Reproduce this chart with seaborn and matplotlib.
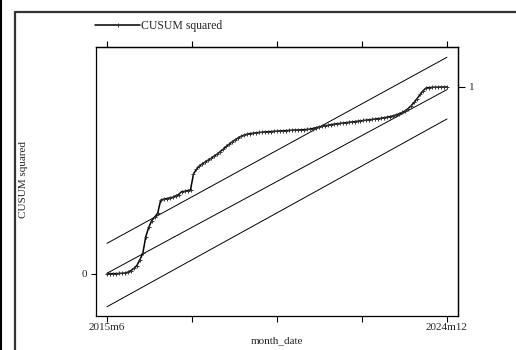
import numpy as np
import pandas as pd
import matplotlib
matplotlib.use("Agg")
import matplotlib.pyplot as plt
import seaborn as sns

# CUSUM of squares, monthly 2015m6 .. 2024m12 (115 obs)
cusum_sq = [
    0.000, 0.001, 0.002, 0.002, 0.003, 0.004, 0.005, 0.010, 0.018, 0.030,
    0.045, 0.075, 0.110, 0.200, 0.250, 0.285, 0.305, 0.325, 0.395, 0.400,
    0.403, 0.407, 0.410, 0.418, 0.425, 0.440, 0.442, 0.446, 0.450, 0.535,
    0.560, 0.578, 0.590, 0.600, 0.610, 0.620, 0.632, 0.642, 0.655, 0.668,
    0.682, 0.695, 0.707, 0.718, 0.728, 0.737, 0.743, 0.748, 0.751, 0.753,
    0.755, 0.757, 0.758, 0.760, 0.761, 0.762, 0.763, 0.764, 0.765, 0.766,
    0.767, 0.768, 0.769, 0.770, 0.770, 0.771, 0.772, 0.773, 0.775, 0.778,
    0.782, 0.786, 0.789, 0.792, 0.795, 0.798, 0.801, 0.803, 0.805, 0.807,
    0.809, 0.811, 0.813, 0.815, 0.817, 0.819, 0.821, 0.823, 0.825, 0.827,
    0.829, 0.831, 0.833, 0.836, 0.839, 0.842, 0.846, 0.851, 0.857, 0.864,
    0.873, 0.885, 0.900, 0.918, 0.938, 0.960, 0.980, 0.995, 0.997, 0.998,
    0.999, 0.999, 1.000, 1.000, 1.000,
]
# expected path and 5% bounds (start value, end value)
upper_line = [0.164, 1.159]
mid_line = [0.004, 0.986]
lower_line = [-0.175, 0.829]

x_labels = ["2015m6", "", "", "", "2024m12"]

n = len(cusum_sq)
t = np.arange(n)
df = pd.DataFrame({"t": t, "cusum": cusum_sq})

sns.set_style("ticks")
plt.rcParams["font.family"] = ["Liberation Serif", "DejaVu Serif"]

fig = plt.figure(figsize=(5.16, 3.5), dpi=100)
ax = fig.add_axes([96 / 516, 1 - 316 / 350, 362 / 516, 269.3 / 350])

for ln in [upper_line, mid_line, lower_line]:
    bdf = pd.DataFrame({"t": [0, n - 1], "v": ln})
    sns.lineplot(data=bdf, x="t", y="v", ax=ax, color="black", linewidth=0.7)

sns.lineplot(data=df, x="t", y="cusum", ax=ax, color="black", linewidth=1.1,
             marker="+", markersize=3.5, markeredgewidth=0.7, markeredgecolor="#333333",
             label="CUSUM squared")

ax.set_xlim(-3.69, 117.7)
ax.set_ylim(-0.2246, 1.2155)

xt = np.linspace(0, n - 1, 5)
ax.set_xticks(xt)
ax.set_xticklabels(x_labels, fontsize=8)
ax.set_yticks([0])
ax.set_yticklabels(["0"], fontsize=8)
ax.tick_params(axis="x", direction="out", length=4, width=0.8, color="black", pad=1)
ax.tick_params(axis="y", direction="out", length=3.5, width=0.8, color="black", pad=3)

# top ticks without labels
axt = ax.secondary_xaxis("top")
axt.set_xticks(xt)
axt.set_xticklabels([])
axt.tick_params(direction="out", length=4, width=0.8, color="black")

# right tick at 1
axr = ax.secondary_yaxis("right")
axr.set_yticks([1])
axr.set_yticklabels(["1"], fontsize=8)
axr.tick_params(direction="out", length=5, width=0.8, color="black", pad=3)

for sp in ax.spines.values():
    sp.set_color("black")
    sp.set_linewidth(0.9)
for a in (axt, axr):
    for sp in a.spines.values():
        sp.set_color("black")
        sp.set_linewidth(0.9)

ax.set_xlabel("month_date", fontsize=8, labelpad=3)
ax.set_ylabel("")
fig.text(24 / 516, 1 - 180 / 350, "CUSUM squared", rotation=90, fontsize=8,
         ha="center", va="center")

ax.legend(loc="upper left", bbox_to_anchor=(87 / 516, 1 - 12 / 350),
          bbox_transform=fig.transFigure, frameon=False, fontsize=8.5,
          handlelength=3.8, handletextpad=0.1, borderpad=0.2, numpoints=1)

# outer frame pieces
fig.add_artist(plt.Line2D([1 / 516, 1 / 516], [0, 1], transform=fig.transFigure,
                          color="black", linewidth=1.5))
fig.add_artist(plt.Line2D([15 / 516, 15 / 516, 1], [0, 1 - 12 / 350, 1 - 12 / 350],
                          transform=fig.transFigure, color="#333333", linewidth=1.6))

fig.savefig("out.png", dpi=100)
